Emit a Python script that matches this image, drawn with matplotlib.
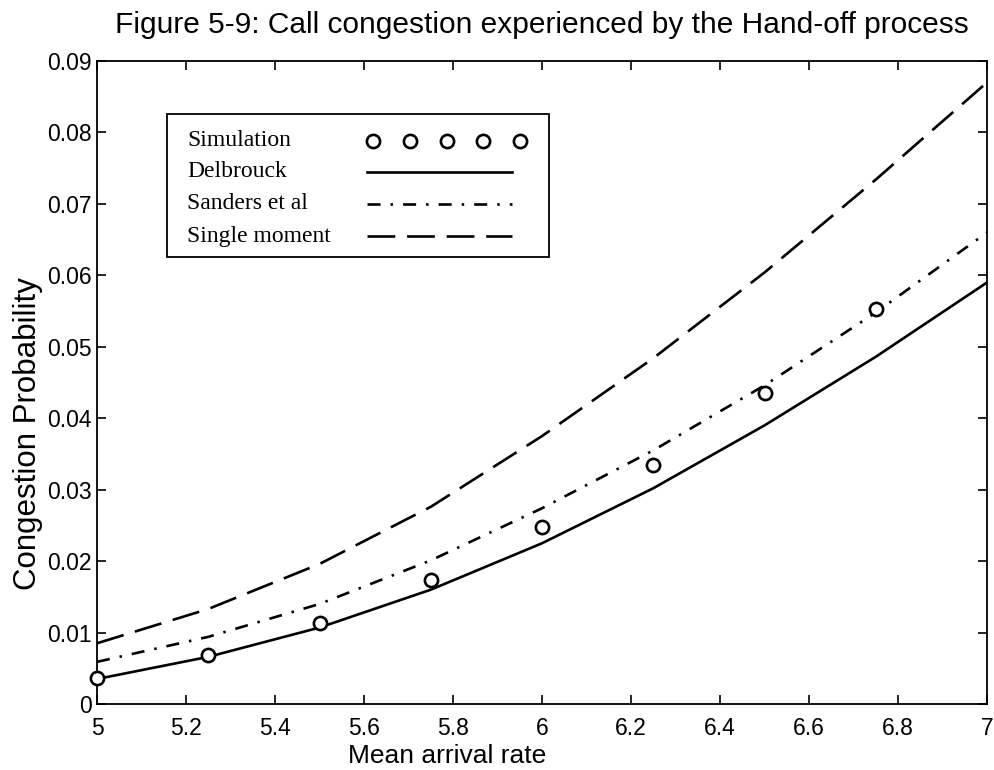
import numpy as np
import matplotlib
matplotlib.use('Agg')
import matplotlib.pyplot as plt
from matplotlib.patches import Rectangle

plt.rcParams['font.family'] = ['Liberation Sans', 'DejaVu Sans']
plt.rcParams['lines.scale_dashes'] = False

# arrival rate grid and model curves
rate = [5.0, 5.25, 5.5, 5.75, 6.0, 6.25, 6.5, 6.75, 7.0]
delbrouck = [0.0035, 0.0066, 0.0107, 0.0160, 0.0225, 0.0302, 0.0390, 0.0486, 0.0590]
sanders = [0.0059, 0.0094, 0.0140, 0.0201, 0.0274, 0.0355, 0.0446, 0.0548, 0.0660]
single_moment = [0.0085, 0.0133, 0.0196, 0.0276, 0.0375, 0.0484, 0.0604, 0.0734, 0.0870]

# simulation results
sim_rate = [5.0, 5.25, 5.5, 5.75, 6.0, 6.25, 6.5, 6.75]
sim_prob = [0.0036, 0.0068, 0.0113, 0.0173, 0.0248, 0.0335, 0.0436, 0.0553]

xticks = [5, 5.2, 5.4, 5.6, 5.8, 6, 6.2, 6.4, 6.6, 6.8, 7]
xtick_labels = ['5', '5.2', '5.4', '5.6', '5.8', '6', '6.2', '6.4', '6.6', '6.8', '7']
yticks = [0, 0.01, 0.02, 0.03, 0.04, 0.05, 0.06, 0.07, 0.08, 0.09]
ytick_labels = ['0', '0.01', '0.02', '0.03', '0.04', '0.05', '0.06', '0.07', '0.08', '0.09']

legend_labels = ['Simulation', 'Delbrouck', 'Sanders et al', 'Single moment']

dash_long = (0, (20, 8.5))
dash_dot = (0, (9.4, 7.2, 1.8, 7.2))
lw = 1.9

fig = plt.figure(figsize=(9.95, 7.7), dpi=100)
ax = fig.add_axes([0.0975, 0.0857, 0.8945, 0.8351])

ax.plot(rate, delbrouck, color='black', lw=lw, ls='-')
ax.plot(rate, sanders, color='black', lw=lw, ls=dash_dot)
ax.plot(rate, single_moment, color='black', lw=lw, ls=dash_long)
ax.plot(sim_rate, sim_prob, ls='none', marker='o', ms=9.5, mfc='white',
        mec='black', mew=1.9, clip_on=False, zorder=3)

ax.set_xlim(5, 7)
ax.set_ylim(0, 0.09)
ax.set_xticks(xticks)
ax.set_xticklabels(xtick_labels)
ax.set_yticks(yticks)
ax.set_yticklabels(ytick_labels)
ax.tick_params(direction='in', length=6.5, width=1.2, top=True, right=True,
               labelsize=16.5, colors='black')
ax.tick_params(axis='x', pad=9)
ax.tick_params(axis='y', pad=4)
for sp in ax.spines.values():
    sp.set_linewidth(1.3)

ax.set_xlabel('Mean arrival rate', fontsize=19, labelpad=3, x=0.393)
ax.set_ylabel('Congestion Probability', fontsize=22.5, labelpad=3, y=0.421)
ax.set_title('Figure 5-9: Call congestion experienced by the Hand-off process',
             fontsize=21.5, pad=20)

# legend box drawn by hand so the labels stay left aligned
ax.add_patch(Rectangle((0.0787, 0.695), 0.4293, 0.2226, transform=ax.transAxes,
                       fill=True, facecolor='white', edgecolor='black', lw=1.3, zorder=4))
row_y = [0.8756, 0.8274, 0.7776, 0.7278]
for label, yy in zip(legend_labels, row_y):
    ax.text(0.1011, yy, label, transform=ax.transAxes, fontsize=17,
            family=['Liberation Serif', 'DejaVu Serif'], va='center', ha='left', zorder=5)
hx0, hx1 = 0.3034, 0.4663
ax.plot(np.linspace(0.3101, 0.4753, 5), [row_y[0]] * 5, transform=ax.transAxes,
        ls='none', marker='o', ms=9.5, mfc='white', mec='black', mew=1.9, zorder=5)
ax.plot([hx0, hx1], [row_y[1]] * 2, transform=ax.transAxes, color='black', lw=lw, zorder=5)
ax.plot([hx0, hx1], [row_y[2]] * 2, transform=ax.transAxes, color='black', lw=lw,
        ls=dash_dot, zorder=5)
ax.plot([hx0, hx1], [row_y[3]] * 2, transform=ax.transAxes, color='black', lw=lw,
        ls=dash_long, zorder=5)

fig.savefig('out.png', dpi=100)
